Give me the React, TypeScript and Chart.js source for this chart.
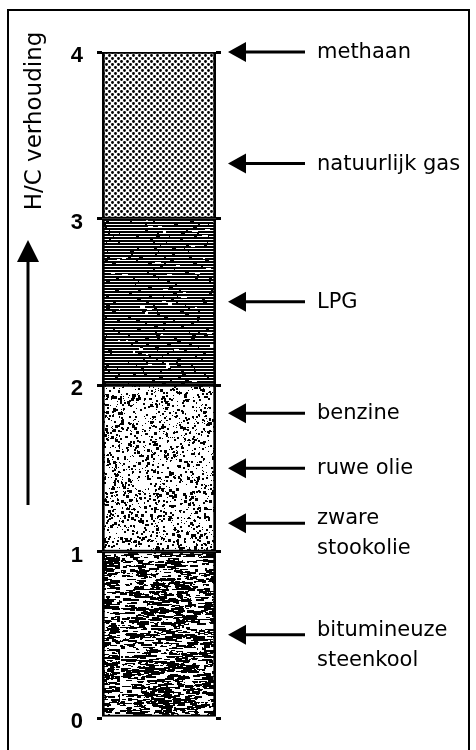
import React, { useEffect, useRef } from "react";
import { Chart, registerables } from "chart.js";

Chart.register(...registerables);

// ---------- data ----------
const categories = [""];
const segmentNames = ["bitumineuze steenkool", "olie", "LPG", "gas"];
const segmentHeights = [1, 1, 1, 1];
const yTicks = [0, 1, 2, 3, 4];
const axisTitle = "H/C verhouding";
const fuelLabels = [
  ["methaan"],
  ["natuurlijk gas"],
  ["LPG"],
  ["benzine"],
  ["ruwe olie"],
  ["zware", "stookolie"],
  ["bitumineuze", "steenkool"],
];
const fuelHC = [4.0, 3.33, 2.5, 1.83, 1.5, 1.17, 0.5];

// ---------- texture helpers (styling only) ----------
function seeded(a: number) {
  return function () {
    a |= 0;
    a = (a + 0x6d2b79f5) | 0;
    let t = Math.imul(a ^ (a >>> 15), 1 | a);
    t = (t + Math.imul(t ^ (t >>> 7), 61 | t)) ^ t;
    return ((t ^ (t >>> 14)) >>> 0) / 4294967296;
  };
}

function makeTile(w: number, h: number, draw: (g: CanvasRenderingContext2D, w: number, h: number) => void) {
  const c = document.createElement("canvas");
  c.width = w;
  c.height = h;
  const g = c.getContext("2d") as CanvasRenderingContext2D;
  draw(g, w, h);
  return c;
}

function coalTile() {
  return makeTile(120, 170, (g, w, h) => {
    const r = seeded(11);
    g.fillStyle = "#fff";
    g.fillRect(0, 0, w, h);
    g.fillStyle = "#000";
    for (let i = 0; i < 1700; i++) {
      g.fillRect(Math.floor(r() * w), Math.floor(r() * h), 2 + Math.floor(r() * 10), 1 + Math.floor(r() * 2.4));
    }
    g.fillStyle = "#fff";
    for (let i = 0; i < 700; i++) {
      g.fillRect(Math.floor(r() * w), Math.floor(r() * h), 1 + Math.floor(r() * 4), 1);
    }
  });
}

function oilTile() {
  return makeTile(120, 170, (g, w, h) => {
    const r = seeded(23);
    g.fillStyle = "#fff";
    g.fillRect(0, 0, w, h);
    g.fillStyle = "#000";
    for (let i = 0; i < 1700; i++) {
      const s = 1 + Math.floor(r() * 2.2);
      g.fillRect(Math.floor(r() * w), Math.floor(r() * h), s, s);
    }
  });
}

function lpgTile() {
  return makeTile(120, 168, (g, w, h) => {
    const r = seeded(37);
    g.fillStyle = "#000";
    g.fillRect(0, 0, w, h);
    g.fillStyle = "#fff";
    for (let y = 2; y < h; y += 3) {
      let x = 0;
      while (x < w) {
        const len = 8 + Math.floor(r() * 34);
        g.fillRect(x, y, len, 1);
        x += len + 1 + Math.floor(r() * 4);
      }
    }
    for (let i = 0; i < 45; i++) {
      g.fillRect(Math.floor(r() * w), Math.floor(r() * h), 2 + Math.floor(r() * 5), 2);
    }
  });
}

function gasTile() {
  return makeTile(6, 6, (g, w, h) => {
    g.fillStyle = "#fff";
    g.fillRect(0, 0, w, h);
    g.fillStyle = "#000";
    g.beginPath();
    g.arc(1.5, 1.5, 1.45, 0, Math.PI * 2);
    g.closePath();
    g.arc(4.5, 4.5, 1.45, 0, Math.PI * 2);
    g.closePath();
    g.fill();
  });
}

// ---------- decoration plugin ----------
const decorPlugin = {
  id: "decor",
  beforeDraw(chart: any) {
    const { ctx, width, height } = chart;
    ctx.save();
    ctx.fillStyle = "#fff";
    ctx.fillRect(0, 0, width, height);
    ctx.restore();
  },
  afterDraw(chart: any) {
    const { ctx, chartArea } = chart;
    const yScale = chart.scales.y;
    ctx.save();
    ctx.strokeStyle = "#000";
    ctx.fillStyle = "#000";

    // frame
    ctx.lineWidth = 2;
    ctx.strokeRect(8, 10, 461, 760);

    // axis title
    ctx.save();
    ctx.translate(41, 121);
    ctx.rotate(-Math.PI / 2);
    ctx.font = '23px "DejaVu Sans"';
    ctx.textAlign = "center";
    ctx.textBaseline = "alphabetic";
    ctx.fillText(axisTitle, 0, 0);
    ctx.restore();

    // upward arrow
    ctx.lineWidth = 3;
    ctx.beginPath();
    ctx.moveTo(28, 258);
    ctx.lineTo(28, 505);
    ctx.stroke();
    ctx.beginPath();
    ctx.moveTo(28, 240);
    ctx.lineTo(17, 262);
    ctx.lineTo(39, 262);
    ctx.closePath();
    ctx.fill();

    // label arrows
    const tipX = chartArea.right + 12;
    ctx.font = '21px "DejaVu Sans"';
    ctx.textAlign = "left";
    ctx.textBaseline = "alphabetic";
    fuelHC.forEach((v, i) => {
      const py = yScale.getPixelForValue(v);
      ctx.beginPath();
      ctx.moveTo(tipX, py);
      ctx.lineTo(tipX + 18, py - 10);
      ctx.lineTo(tipX + 18, py + 10);
      ctx.closePath();
      ctx.fill();
      ctx.lineWidth = 3;
      ctx.beginPath();
      ctx.moveTo(tipX + 16, py);
      ctx.lineTo(tipX + 77, py);
      ctx.stroke();
      const lines = fuelLabels[i];
      const tx = tipX + 89;
      if (lines.length === 1) {
        ctx.fillText(lines[0], tx, py + 6);
      } else {
        ctx.fillText(lines[0], tx, py + 1);
        ctx.fillText(lines[1], tx, py + 31);
      }
    });
    ctx.restore();
  },
};

export default function App() {
  const ref = useRef<HTMLCanvasElement | null>(null);

  useEffect(() => {
    const canvas = ref.current;
    if (!canvas) return;
    const ctx = canvas.getContext("2d") as CanvasRenderingContext2D;
    const fills = [
      ctx.createPattern(coalTile(), "repeat"),
      ctx.createPattern(oilTile(), "repeat"),
      ctx.createPattern(lpgTile(), "repeat"),
      ctx.createPattern(gasTile(), "repeat"),
    ];

    const chart = new Chart(canvas, {
      type: "bar",
      data: {
        labels: categories,
        datasets: segmentNames.map((name, i) => ({
          label: name,
          data: [segmentHeights[i]],
          backgroundColor: fills[i] as any,
          borderColor: "#000",
          borderWidth: { top: 2, bottom: 2, left: 3, right: 3 },
          borderSkipped: false,
          barPercentage: 1,
          categoryPercentage: 1,
        })),
      },
      options: {
        responsive: false,
        animation: false,
        layout: { padding: { left: 0, right: 255, top: 52, bottom: 32 } },
        plugins: { legend: { display: false }, tooltip: { enabled: false } },
        scales: {
          x: { stacked: true, display: false },
          y: {
            stacked: true,
            min: 0,
            max: 4,
            afterFit: (s: any) => {
              s.width = 102;
            },
            afterBuildTicks: (s: any) => {
              s.ticks = yTicks.map((v) => ({ value: v }));
            },
            border: { display: false },
            grid: {
              drawOnChartArea: false,
              drawTicks: true,
              tickLength: 5,
              color: "#000",
              lineWidth: 3,
            },
            ticks: {
              padding: 14,
              labelOffset: 4,
              color: "#000",
              font: { family: "Liberation Sans", size: 22, weight: "bold" },
            },
          },
          y2: {
            position: "right",
            min: 0,
            max: 4,
            afterFit: (s: any) => {
              s.width = 5;
            },
            afterBuildTicks: (s: any) => {
              s.ticks = yTicks.map((v) => ({ value: v }));
            },
            border: { display: false },
            grid: {
              drawOnChartArea: false,
              drawTicks: true,
              tickLength: 5,
              color: "#000",
              lineWidth: 3,
            },
            ticks: { display: false },
          },
        },
      },
      plugins: [decorPlugin],
    } as any);

    return () => chart.destroy();
  }, []);

  return (
    <div style={{ position: "absolute", left: 0, top: 0, width: 476, height: 750, background: "#fff" }}>
      <canvas ref={ref} width={476} height={750} style={{ display: "block", width: 476, height: 750 }} />
    </div>
  );
}
